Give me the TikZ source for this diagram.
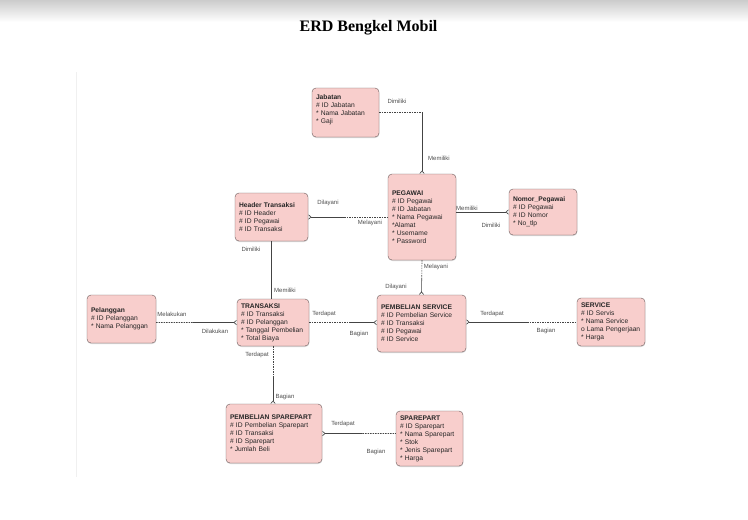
\documentclass[tikz,border=0pt]{standalone}
\usepackage{fontspec}
\setmainfont{Liberation Sans}
\newfontfamily\titlefont{Liberation Serif}
\usetikzlibrary{arrows.meta, shadows, calc, positioning}

\definecolor{entfill}{HTML}{F8CECC}
\definecolor{entline}{HTML}{6B5B5B}
\definecolor{linkgray}{HTML}{444444}
\tikzset{crow/.tip={Straight Barb[reversed, length=2.5pt, width=4.5pt, line width=.6pt]}}

\begin{document}
\begin{tikzpicture}[x=1pt, y=-1pt,
  entity/.style={draw=entline, fill=entfill, rounded corners=4pt, align=left,
    inner xsep=4pt, inner ysep=2pt, font=\fontsize{6.7}{8}\selectfont, text=black!85,
    drop shadow={shadow xshift=.3pt, shadow yshift=-1pt, opacity=.3}},
  lbl/.style={font=\fontsize{6}{7}\selectfont, text=black!70, inner sep=0pt},
  rel/.style={draw=linkgray, line width=.6pt},
  opt/.style={rel, dash pattern=on 1.5pt off 1pt}]

  \useasboundingbox (0,0) rectangle (748,520);
  \shade[top color=gray!40, bottom color=white] (0,0) rectangle (748,22);
  \draw[black!6, line width=.8pt] (76,72) -- (76,477);

  \node[font=\titlefont\bfseries\fontsize{16}{18}\selectfont](title) at (368.5,28){ERD Bengkel Mobil};

  % entitas
  \node[entity, text width=59pt, minimum height=49pt](jabatan) at (345.5,112.5)
    {\textbf{Jabatan}\\\# ID Jabatan\\{*} Nama Jabatan\\{*} Gaji\\[-2pt]~};
  \node[entity, text width=60pt, minimum height=86pt](pegawai) at (422,217)
    {\textbf{PEGAWAI}\\\# ID Pegawai\\\# ID Jabatan\\{*} Nama Pegawai\\{*}Alamat\\{*} Username\\{*} Password};
  \node[entity, text width=65pt, minimum height=48pt](header) at (271.5,217)
    {\textbf{Header Transaksi}\\\# ID Header\\\# ID Pegawai\\\# ID Transaksi};
  \node[entity, text width=60pt, minimum height=46pt](nomor) at (543,212)
    {\textbf{Nomor\_Pegawai}\\\# ID Pegawai\\\# ID Nomor\\{*} No\_tlp};
  \node[entity, text width=61pt, minimum height=48pt](pelanggan) at (121.5,319)
    {\textbf{Pelanggan}\\\# ID Pelanggan\\{*} Nama Pelanggan\\[-6pt]~};
  \node[entity, text width=64pt, minimum height=47pt](transaksi) at (273,322.5)
    {\textbf{TRANSAKSI}\\\# ID Transaksi\\\# ID Pelanggan\\{*} Tanggal Pembelian\\{*} Total Biaya};
  \node[entity, text width=81pt, minimum height=57pt](ps) at (421.5,323.5)
    {\textbf{PEMBELIAN SERVICE}\\\# ID Pembelian Service\\\# ID Transaksi\\\# ID Pegawai\\\# ID Service};
  \node[entity, text width=60pt, minimum height=48pt](service) at (611,322)
    {\textbf{SERVICE}\\\# ID Servis\\{*} Nama Service\\o Lama Pengerjaan\\{*} Harga};
  \node[entity, text width=88pt, minimum height=59pt](psp) at (274,433.5)
    {\textbf{PEMBELIAN SPAREPART}\\\# ID Pembelian Sparepart\\\# ID Transaksi\\\# ID Sparepart\\{*} Jumlah Beli};
  \node[entity, text width=59pt, minimum height=55pt](sparepart) at (429.5,438.5)
    {\textbf{SPAREPART}\\\# ID Sparepart\\{*} Nama Sparepart\\{*} Stok\\{*} Jenis Sparepart\\{*} Harga};

  % relasi
  \coordinate (jp) at (jabatan.east -| pegawai.north);
  \draw[opt](jabatan.east) -- (jp);
  \draw[rel,-crow](jp) -- (pegawai.north);

  \coordinate (hp) at ($(header.east)!.45!(pegawai.west)$);
  \draw[rel,crow-](header.east) -- (hp);
  \draw[opt](hp) -- (pegawai.west);

  \draw[rel,-crow](pegawai.east |- nomor.west) -- (nomor.west);

  \draw[rel](header.south) -- (header.south |- transaksi.north);

  \coordinate (pps) at ($(pegawai.south)!.5!(ps.north)$);
  \draw[opt](pegawai.south) -- (pps);
  \draw[rel,-crow](pps) -- (ps.north);

  \coordinate (plt) at ($(pelanggan.east |- transaksi.west)!.45!(transaksi.west)$);
  \draw[opt](pelanggan.east |- transaksi.west) -- (plt);
  \draw[rel,-crow](plt) -- (transaksi.west);

  \coordinate (tps) at ($(transaksi.east)!.6!(ps.west |- transaksi.east)$);
  \draw[opt](transaksi.east) -- (tps);
  \draw[rel,-crow](tps) -- (ps.west |- transaksi.east);

  \coordinate (pss) at ($(ps.east |- service.west)!.55!(service.west)$);
  \draw[rel,crow-](ps.east |- service.west) -- (pss);
  \draw[opt](pss) -- (service.west);

  \coordinate (tpp) at ($(transaksi.south)!.55!(transaksi.south |- psp.north)$);
  \draw[opt](transaksi.south) -- (tpp);
  \draw[rel,-crow](tpp) -- (transaksi.south |- psp.north);

  \coordinate (pspa) at ($(psp.east)!.55!(psp.east -| sparepart.west)$);
  \draw[rel,crow-](psp.east) -- (pspa);
  \draw[opt](pspa) -- (psp.east -| sparepart.west);

  % label relasi
  \node[lbl](jabDimiliki) at (397,101){Dimiliki};
  \node[lbl](pegMemiliki) at (439,158){Memiliki};
  \node[lbl](hdrDilayani) at (328,203){Dilayani};
  \node[lbl](pegMelayani) at (370,223){Melayani};
  \node[lbl](pegMemiliki2) at (467,208){Memiliki};
  \node[lbl](nomDimiliki) at (491,225){Dimiliki};
  \node[lbl](hdrDimiliki) at (251,249){Dimiliki};
  \node[lbl](trsMemiliki) at (285,290){Memiliki};
  \node[lbl](pegMelayani2) at (436,267){Melayani};
  \node[lbl](psDilayani) at (396,287){Dilayani};
  \node[lbl](plgMelakukan) at (172,314){Melakukan};
  \node[lbl](trsDilakukan) at (215,331){Dilakukan};
  \node[lbl](trsTerdapat) at (324,314){Terdapat};
  \node[lbl](psBagian) at (359,334){Bagian};
  \node[lbl](psTerdapat) at (492,314){Terdapat};
  \node[lbl](srvBagian) at (546,331){Bagian};
  \node[lbl](trsTerdapat2) at (257,355){Terdapat};
  \node[lbl](pspBagian) at (285,397){Bagian};
  \node[lbl](pspTerdapat) at (343,424){Terdapat};
  \node[lbl](spBagian) at (376,452){Bagian};
\end{tikzpicture}
\end{document}
